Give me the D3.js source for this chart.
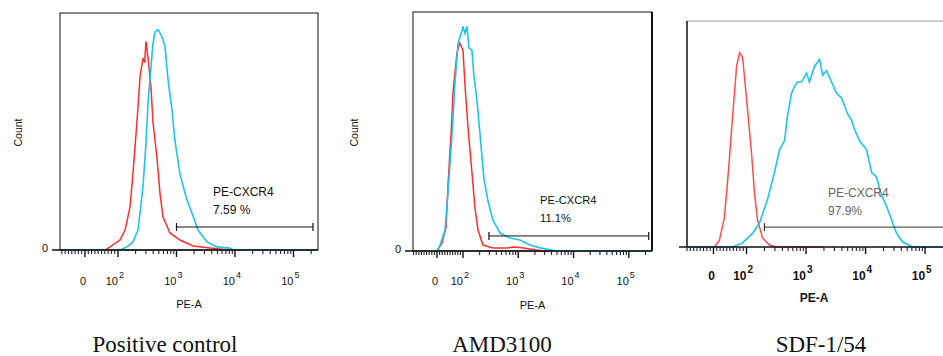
<!DOCTYPE html>
<html>
<head>
<meta charset="utf-8">
<script src="https://cdn.jsdelivr.net/npm/d3@7"></script>
<style>
  body { margin: 0; background: #fff; }
  svg text { font-family: "Liberation Sans", Arial, sans-serif; }
</style>
</head>
<body>
<svg id="chart" width="943" height="356"></svg>
<script>
// ---- data: [PE-A value, count (% of panel height)] ----
const posIsotype = [[-70,0],[61,0],[76,1.3],[108,4.2],[132,8.4],[160,18],[180,32],[211,54],[238,73],[267,81],[285,79],[301,88],[326,81],[366,69],[396,54],[464,39],[522,24],[587,14],[774,7.2],[1148,4.2],[1915,1.7],[3740,0.8],[8220,0],[260000,0]];
const posCxcr4 = [[-70,0],[108,0],[143,1.3],[180,3.4],[220,8.4],[238,15.6],[267,26.6],[301,45],[326,62],[366,77],[396,87],[429,92],[483,93],[565,90],[636,86],[716,72],[838,59],[942,46],[1148,32],[1510,21],[1840,15.6],[2330,8.4],[3320,3.4],[4920,1.3],[8220,0.8],[9250,0],[260000,0]];

const amdIsotype = [[-60,0],[0,0],[19,3.3],[35,10],[42,27],[54,49],[62,67],[77,83],[88,87],[100,84],[109,69],[123,52],[145,33],[165,18],[187,8.8],[230,2.5],[348,1.3],[625,1.3],[800,1.7],[1070,1.5],[1630,0.8],[2800,0],[260000,0]];
const amdCxcr4 = [[-60,0],[0,0],[12,2.5],[31,8.8],[42,24],[58,49],[69,70],[81,87],[96,92],[100,94],[109,91],[118,94],[128,85],[145,84],[158,73],[179,63],[203,49],[240,30],[283,21],[348,13],[466,7.5],[708,5.4],[1070,4.6],[1630,2.5],[2470,1.3],[4980,0],[260000,0]];

const sdfIsotype = [[-80,0],[3,0],[18,3],[33,13],[45,33],[58,58],[70,80],[79,86],[88,84],[94,75],[104,61],[121,42],[136,24],[153,12],[186,4],[243,0.9],[319,0],[2000,0]];
const sdfCxcr4 = [[-80,0],[58,0],[88,1.8],[126,6],[165,10.6],[225,21],[295,33],[359,43],[435,47],[488,58],[570,68],[640,71],[720,73],[840,73],[1020,77],[1140,73],[1390,80],[1680,83],[1900,76],[2200,78],[2680,73],[3260,68],[3950,66],[4980,59],[5820,56],[6540,52],[7930,47],[10400,43],[12600,33],[15300,31],[17900,24],[22500,18],[27400,12],[33200,6],[42000,2.2],[61500,0],[262000,0]];

const majorTicks = [0, 100, 1000, 10000, 100000];
const tickExponents = ["", "2", "3", "4", "5"];
const minorTicks = [-90,-80,-70,-60,-50,-40,-30,-20,-10,10,20,30,40,50,60,70,80,90,
  200,300,400,500,600,700,800,900,2000,3000,4000,5000,6000,7000,8000,9000,
  20000,30000,40000,50000,60000,70000,80000,90000,200000];

const gateNames = ["PE-CXCR4", "PE-CXCR4", "PE-CXCR4"];
const gatePercents = ["7.59 %", "11.1%", "97.9%"];
const gateRanges = [[1000, 215000], [295, 229000], [200, 262144]];
const gateLevels = [9.7, 6.3, 8.8];
const captions = ["Positive control", "AMD3100", "SDF-1/54"];

// ---- layout for each panel ----
const panels = [
  { left: 60, top: 13, right: 318, bottom: 250, k: 0.564, tMin: 1.009, iso: posIsotype, cx: posCxcr4,
    caption: 165, textX: 213, textY: 196, countX: 22, bold: false, frame: "full", labelY: 285, titleY: 308 },
  { left: 413, top: 12, right: 652, bottom: 251, k: 0.47, tMin: 1.096, iso: amdIsotype, cx: amdCxcr4,
    caption: 502, textX: 540, textY: 204, countX: 358, bold: false, frame: "full", labelY: 285, titleY: 309 },
  { left: 687, top: 21, right: 950, bottom: 247, k: 0.555, tMin: 1.0, iso: sdfIsotype, cx: sdfCxcr4,
    caption: 821, textX: 828, textY: 197, countX: null, bold: true, frame: "open", labelY: 280, titleY: 302 }
];

const tMax = Math.log10(262144);

// logicle-like transform: linear below 100, log above
function logicle(v, k) {
  return v >= 100 ? Math.log10(v) : 2 - (100 - v) / 100 * k;
}

const svg = d3.select("#chart");

panels.forEach(function(p, i) {
  let g = svg.append("g");

  let xs = d3.scaleLinear().domain([p.tMin, tMax]).range([p.left, p.right]);
  let x = v => xs(logicle(v, p.k));
  let y = d3.scaleLinear().domain([0, 100]).range([p.bottom, p.top]);
  let xEnd = Math.min(p.right, 943);

  // frame
  if (p.frame === "full") {
    g.append("rect")
      .attr("x", p.left).attr("y", p.top)
      .attr("width", p.right - p.left).attr("height", p.bottom - p.top)
      .attr("fill", "none").attr("stroke", "#111").attr("stroke-width", 1);
    if (i === 1) {
      g.append("line").attr("x1", p.right).attr("x2", p.right).attr("y1", p.top).attr("y2", p.bottom)
        .attr("stroke", "#111").attr("stroke-width", 2);
    }
  } else {
    g.append("line").attr("x1", p.left).attr("x2", 943).attr("y1", p.top).attr("y2", p.top)
      .attr("stroke", "#999").attr("stroke-width", 1);
    g.append("line").attr("x1", p.left).attr("x2", p.left).attr("y1", p.top).attr("y2", p.bottom)
      .attr("stroke", "#111").attr("stroke-width", 1.5);
  }

  // histograms
  let line = d3.line()
    .x(d => x(d[0]))
    .y(d => y(d[1]));

  g.append("path").datum(p.iso)
    .attr("d", line).attr("fill", "none")
    .attr("stroke", i === 2 ? "#ff4d4d" : "#ff2e2e").attr("stroke-width", 1.5);
  g.append("path").datum(p.cx)
    .attr("d", line).attr("fill", "none")
    .attr("stroke", "#1cc5ef").attr("stroke-width", 1.6);

  // x axis line + ticks
  g.append("line")
    .attr("x1", p.left - 8).attr("x2", xEnd)
    .attr("y1", p.bottom).attr("y2", p.bottom)
    .attr("stroke", "#111").attr("stroke-width", 1.5);

  g.selectAll("line.minor")
    .data(minorTicks.filter(v => logicle(v, p.k) > p.tMin && x(v) < 943))
    .join("line")
    .attr("class", "minor")
    .attr("x1", d => x(d)).attr("x2", d => x(d))
    .attr("y1", p.bottom).attr("y2", p.bottom + 4)
    .attr("stroke", "#222").attr("stroke-width", 1.1);

  g.selectAll("line.major")
    .data(majorTicks)
    .join("line")
    .attr("class", "major")
    .attr("x1", d => x(d)).attr("x2", d => x(d))
    .attr("y1", p.bottom).attr("y2", p.bottom + 7)
    .attr("stroke", "#111").attr("stroke-width", 1.4);

  // tick labels
  let weight = p.bold ? "bold" : "normal";
  let fs = p.bold ? 12 : 11;
  majorTicks.forEach(function(v, j) {
    if (j === 0) {
      g.append("text").attr("x", x(v) - 2).attr("y", p.labelY)
        .attr("text-anchor", "middle").attr("font-size", fs).attr("font-weight", weight)
        .attr("fill", "#111").text("0");
    } else {
      g.append("text").attr("x", x(v)).attr("y", p.labelY)
        .attr("text-anchor", "end").attr("font-size", fs).attr("font-weight", weight)
        .attr("fill", "#111").text("10");
      g.append("text").attr("x", x(v) + 1).attr("y", p.labelY - 7)
        .attr("font-size", fs - 2).attr("font-weight", weight)
        .attr("fill", "#111").text(tickExponents[j]);
    }
  });

  g.append("text")
    .attr("x", (p.left + xEnd) / 2 + (i === 2 ? -1 : 0))
    .attr("y", p.titleY)
    .attr("text-anchor", "middle").attr("font-size", p.bold ? 12 : 11).attr("font-weight", weight)
    .attr("fill", "#111").text("PE-A");

  if (p.countX !== null) {
    g.append("text")
      .attr("transform", "translate(" + p.countX + "," + ((p.top + p.bottom) / 2 + 1) + ") rotate(-90)")
      .attr("text-anchor", "middle").attr("font-size", 10.5).attr("fill", "#111").text("Count");
    g.append("text").attr("x", p.left - 15).attr("y", p.bottom + 2)
      .attr("text-anchor", "middle").attr("font-size", 11).attr("fill", "#111").text("0");
  }

  // gate
  let gy = y(gateLevels[i]);
  let gx0 = x(gateRanges[i][0]), gx1 = x(gateRanges[i][1]);
  let gateColor = i === 2 ? "#333" : "#111";
  g.append("line").attr("x1", gx0).attr("x2", gx1).attr("y1", gy).attr("y2", gy)
    .attr("stroke", gateColor).attr("stroke-width", 1);
  [gx0, gx1].forEach(function(gx) {
    if (gx < 943) {
      g.append("line").attr("x1", gx).attr("x2", gx).attr("y1", gy - 4).attr("y2", gy + 4)
        .attr("stroke", gateColor).attr("stroke-width", 1.2);
    }
  });
  let textColor = i === 2 ? "#666" : "#111";
  g.append("text").attr("x", p.textX).attr("y", p.textY)
    .attr("font-size", i === 1 ? 11.2 : 12).attr("fill", textColor).text(gateNames[i]);
  g.append("text").attr("x", p.textX).attr("y", p.textY + 18)
    .attr("font-size", i === 1 ? 11.2 : 12).attr("fill", textColor).text(gatePercents[i]);

  // caption
  svg.append("text").attr("x", p.caption).attr("y", 352)
    .attr("text-anchor", "middle")
    .style("font-family", "'Liberation Serif', 'Times New Roman', serif")
    .attr("font-size", 23).attr("fill", "#111").text(captions[i]);
});
</script>
</body>
</html>
